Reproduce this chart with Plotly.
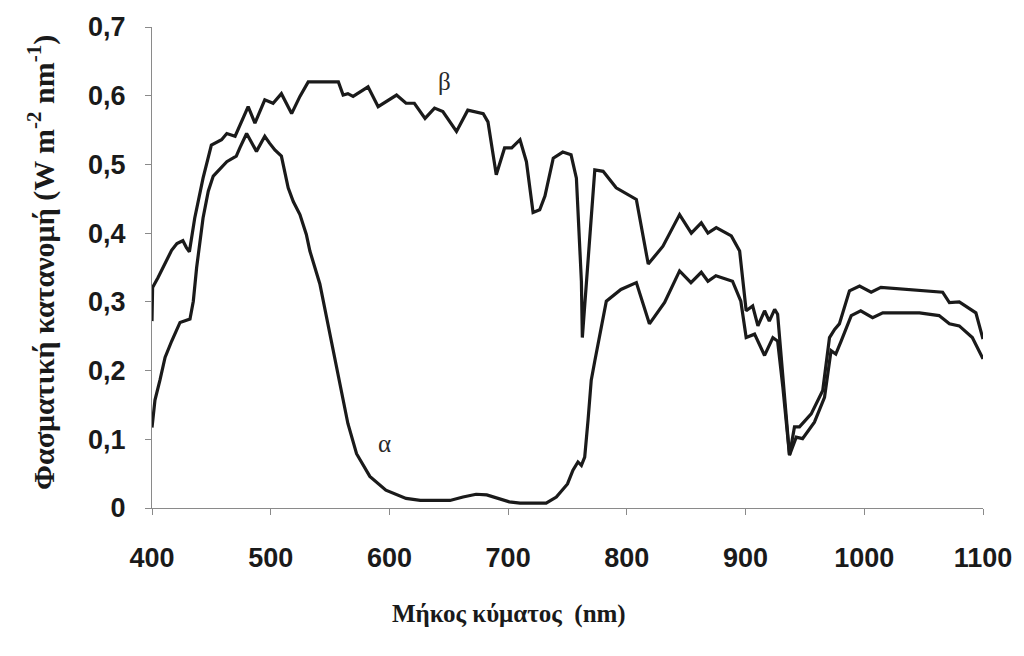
import plotly.graph_objects as go

# Spectral irradiance curves: wavelength (nm) and value (W m^-2 nm^-1)
beta_nm = [400, 400.5, 405, 411, 416.5, 421, 426, 429, 431.5, 436, 443, 450, 458.6, 463, 470,
           481, 486.7, 495, 502, 509, 517.6, 524.6, 531.6, 544, 557, 561, 565, 569.4, 582,
           590.5, 606, 614, 621, 630, 638, 645, 656.5, 666, 679, 683, 690, 697, 703, 710,
           715.4, 721, 726.6, 731, 738, 746, 753, 757.5, 761.7, 762.5, 766, 773, 780, 791,
           808, 818, 830.4, 844.4, 854.3, 862.7, 868.3, 875.3, 888, 895, 900.5, 906, 910.4,
           916, 920, 924.5, 927, 931.4, 937, 941.2, 945.4, 955.3, 965, 970.7, 975, 979,
           987.5, 996, 1005.8, 1014, 1048, 1066, 1071.7, 1080, 1094, 1100]
beta_val = [0.272, 0.321, 0.335, 0.357, 0.375, 0.385, 0.389, 0.379, 0.373, 0.422, 0.48, 0.528,
            0.536, 0.545, 0.541, 0.584, 0.56, 0.594, 0.589, 0.603, 0.574, 0.599, 0.62, 0.62,
            0.62, 0.601, 0.603, 0.599, 0.613, 0.584, 0.601, 0.589, 0.589, 0.567, 0.582, 0.577,
            0.548, 0.579, 0.574, 0.562, 0.485, 0.524, 0.524, 0.536, 0.504, 0.43, 0.434, 0.454,
            0.509, 0.518, 0.514, 0.48, 0.33, 0.248, 0.33, 0.492, 0.49, 0.466, 0.449, 0.355,
            0.381, 0.427, 0.40, 0.415, 0.40, 0.408, 0.396, 0.374, 0.287, 0.294, 0.265, 0.287,
            0.272, 0.289, 0.282, 0.186, 0.077, 0.118, 0.118, 0.137, 0.171, 0.248, 0.26, 0.268,
            0.316, 0.323, 0.314, 0.321, 0.317, 0.314, 0.299, 0.30, 0.284, 0.246]

alpha_nm = [400, 402.5, 406.7, 411, 416.6, 423.6, 432, 434.8, 437.6, 443, 447.4, 451.6, 463,
            471, 474, 479.7, 488, 495, 499, 503.5, 509, 514.7, 519, 524.6, 530, 533, 541.4,
            549.8, 558, 565, 572.3, 583.5, 597, 606, 614, 626, 651, 662, 673, 682, 696, 701,
            710, 732, 740.6, 746, 750, 754.6, 758.8, 761.7, 764.5, 767.3, 770, 773, 782.7,
            795, 808, 819, 831.8, 844.4, 854, 862.7, 868.3, 875, 889, 896, 900.5, 907.6, 916,
            923, 927, 931.4, 937, 942.7, 948, 958, 966.5, 972, 976, 980.5, 989, 997, 1007,
            1015.6, 1046.5, 1063, 1071.7, 1080, 1091, 1100]
alpha_val = [0.117, 0.157, 0.186, 0.219, 0.243, 0.27, 0.275, 0.301, 0.35, 0.422, 0.461, 0.483,
             0.504, 0.512, 0.524, 0.545, 0.519, 0.541, 0.531, 0.521, 0.512, 0.466, 0.446, 0.427,
             0.398, 0.374, 0.326, 0.253, 0.181, 0.123, 0.079, 0.046, 0.026, 0.019, 0.014, 0.011,
             0.011, 0.016, 0.02, 0.019, 0.011, 0.009, 0.007, 0.007, 0.016, 0.026, 0.035, 0.055,
             0.067, 0.062, 0.074, 0.128, 0.186, 0.214, 0.301, 0.318, 0.328, 0.268, 0.299, 0.345,
             0.328, 0.343, 0.33, 0.338, 0.33, 0.301, 0.248, 0.253, 0.222, 0.248, 0.243, 0.176,
             0.077, 0.103, 0.101, 0.125, 0.161, 0.229, 0.224, 0.243, 0.28, 0.287, 0.277, 0.284,
             0.284, 0.28, 0.268, 0.265, 0.248, 0.217]

x_ticks = [400, 500, 600, 700, 800, 900, 1000, 1100]
x_tick_labels = ["400", "500", "600", "700", "800", "900", "1000", "1100"]
y_ticks = [0, 0.1, 0.2, 0.3, 0.4, 0.5, 0.6, 0.7]
y_tick_labels = ["0", "0,1", "0,2", "0,3", "0,4", "0,5", "0,6", "0,7"]

curve_labels = ["α", "β"]
label_nm = [596, 646]
label_val = [0.094, 0.62]

LINE = dict(color="#1a1a1a", width=3.2)
TICK_FONT = dict(family="Liberation Sans, Arial", size=27, color="#1a1a1a", weight="bold")
SERIF = "Liberation Serif, Times New Roman"

fig = go.Figure()
fig.add_trace(go.Scatter(x=beta_nm, y=beta_val, mode="lines", line=LINE, name="β"))
fig.add_trace(go.Scatter(x=alpha_nm, y=alpha_val, mode="lines", line=LINE, name="α"))

for txt, xv, yv in zip(curve_labels, label_nm, label_val):
    fig.add_annotation(x=xv, y=yv, text=txt, showarrow=False,
                       font=dict(family=SERIF, size=25, color="#2a2a2a"))

# Axis titles
fig.add_annotation(xref="paper", yref="paper", x=-0.158, y=0.51, textangle=-90,
                   text="Φασματική κατανομή (W m<sup>-2</sup> nm<sup>-1</sup>)",
                   showarrow=False,
                   font=dict(family=SERIF, size=30, color="#1a1a1a", weight="bold"))
fig.add_annotation(xref="paper", yref="paper", x=0.43, y=-0.2526,
                   text="Μήκος κύματος \u00a0(nm)", showarrow=False,
                   font=dict(family=SERIF, size=25, color="#1a1a1a", weight="bold"))

fig.update_layout(
    width=1024, height=656,
    margin=dict(l=152, r=40, t=25, b=148),
    paper_bgcolor="white", plot_bgcolor="white",
    showlegend=False,
)
fig.update_xaxes(range=[400, 1100], tickvals=x_ticks, ticktext=x_tick_labels,
                 showgrid=False, zeroline=False, showline=True, linecolor="#8a8a8a",
                 linewidth=1, ticks="outside", ticklen=6, tickcolor="#8a8a8a",
                 tickfont=TICK_FONT, ticklabelstandoff=20)
fig.update_yaxes(range=[0, 0.7], tickvals=y_ticks, ticktext=y_tick_labels,
                 showgrid=False, zeroline=False, showline=True, linecolor="#8a8a8a",
                 linewidth=1, ticks="outside", ticklen=6, tickcolor="#8a8a8a",
                 tickfont=TICK_FONT, ticklabelstandoff=14)

fig.write_html("out.html")
